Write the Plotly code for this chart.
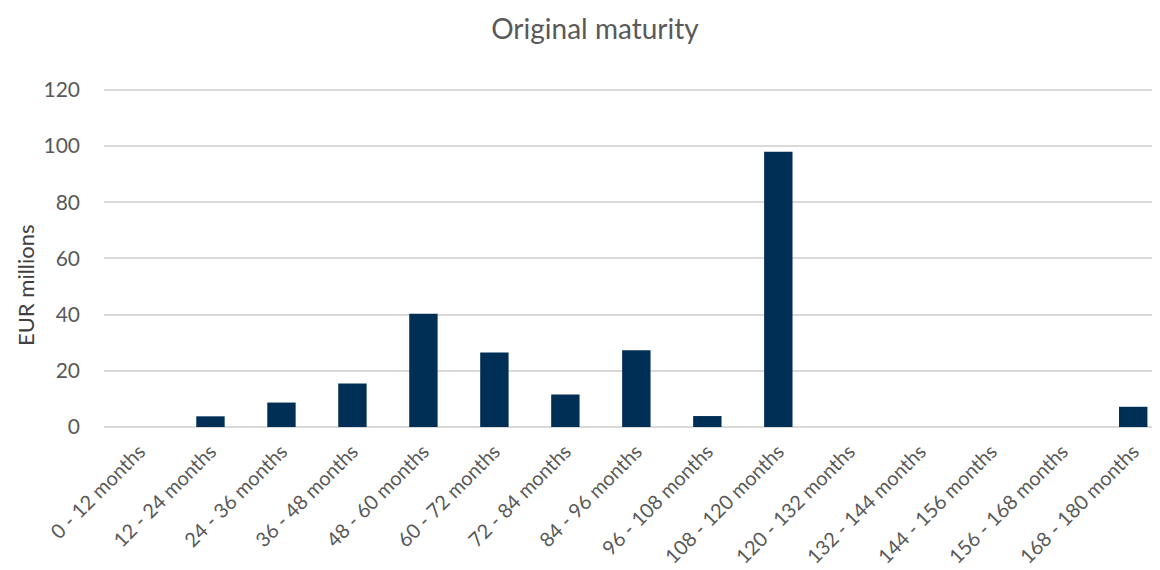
import plotly.graph_objects as go

categories = [
    "0 - 12 months", "12 - 24 months", "24 - 36 months", "36 - 48 months",
    "48 - 60 months", "60 - 72 months", "72 - 84 months", "84 - 96 months",
    "96 - 108 months", "108 - 120 months", "120 - 132 months", "132 - 144 months",
    "144 - 156 months", "156 - 168 months", "168 - 180 months",
]
values = [0, 3.8, 8.7, 15.5, 40.3, 26.5, 11.6, 27.3, 3.9, 98.0, 0, 0, 0, 0, 7.2]
y_ticks = [0, 20, 40, 60, 80, 100, 120]

grey = "#595959"
font = "Lato"

fig = go.Figure()
fig.add_trace(
    go.Bar(
        x=categories,
        y=values,
        width=0.4,
        marker=dict(color="#002F56", line=dict(width=0)),
    )
)

# page body has an 8px margin, so the figure is offset by 8px
fig.update_layout(
    width=1160,
    height=570,
    paper_bgcolor="white",
    plot_bgcolor="white",
    showlegend=False,
    margin=dict(l=96, r=0, t=79, b=151),
    title=dict(
        text="Original maturity",
        x=0.506,
        xanchor="center",
        y=0.963,
        yanchor="middle",
        font=dict(family=font, size=28, color=grey),
    ),
    font=dict(family=font, color=grey),
    xaxis=dict(
        type="category",
        range=[-0.5, 14.49],
        tickangle=-45,
        tickfont=dict(size=20, color=grey),
        ticklabelstandoff=8,
        showgrid=False,
        showline=False,
        ticks="",
    ),
    yaxis=dict(
        range=[0, 121],
        tickvals=y_ticks,
        tickfont=dict(size=21, color=grey),
        ticklabelstandoff=23,
        gridcolor="#D9D9D9",
        gridwidth=1.5,
        zeroline=True,
        zerolinecolor="#D9D9D9",
        zerolinewidth=1.5,
        showline=False,
    ),
)

# y title sits a bit below the plot centre, as in the original
fig.add_annotation(
    text="EUR millions",
    textangle=-90,
    xref="paper",
    yref="paper",
    x=0,
    y=0.4176,
    xanchor="center",
    yanchor="middle",
    xshift=-79,
    showarrow=False,
    font=dict(family=font, size=22, color="#404040"),
)

fig.write_html("out.html")
